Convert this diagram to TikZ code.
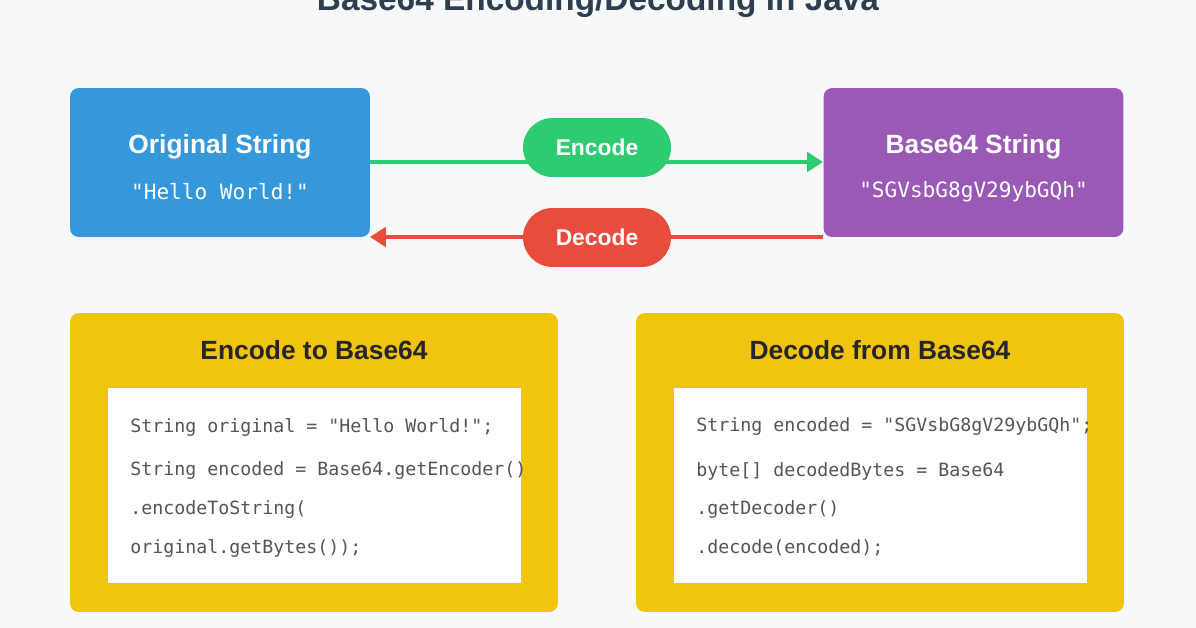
\documentclass[tikz,border=0pt]{standalone}
\usepackage{fontspec}
\setmainfont{Liberation Sans}
\setmonofont{DejaVu Sans Mono}
\usetikzlibrary{arrows.meta,positioning}
\definecolor{bgcol}{HTML}{F7F8F9}
\definecolor{bluebox}{HTML}{3498DB}
\definecolor{purplebox}{HTML}{9B59B6}
\definecolor{greenpill}{HTML}{2ECC71}
\definecolor{redpill}{HTML}{E74C3C}
\definecolor{yellowbox}{HTML}{F1C40F}
\definecolor{codegray}{HTML}{555555}
\definecolor{titlecol}{HTML}{2C3E50}

\begin{document}
\begin{tikzpicture}[x=0.02cm, y=-0.02cm,
    box/.style={rounded corners=5pt, minimum width=6cm, minimum height=2.98cm, inner sep=0pt},
    pill/.style={rounded corners=0.59cm, minimum width=2.96cm, minimum height=1.18cm, text=white, font=\bfseries\fontsize{13}{15}\selectfont},
    panel/.style={fill=yellowbox, rounded corners=5pt, minimum width=9.76cm, minimum height=5.98cm},
    codebox/.style={fill=white, minimum width=8.26cm, minimum height=3.9cm},
    head/.style={text=white, font=\bfseries\fontsize{15}{18}\selectfont},
    sub/.style={text=white, font=\ttfamily\fontsize{12}{14}\selectfont},
    code/.style={anchor=west, text=codegray, font=\ttfamily\fontsize{10.4}{12}\selectfont, inner sep=0pt},
    flow/.style={line width=2.2pt, -{Triangle[length=9pt,width=11pt]}}]
    \fill[bgcol] (0,0) rectangle (1196,628);
    \useasboundingbox (0,0) rectangle (1196,628);
    \node[text=titlecol, font=\bfseries\fontsize{19}{22}\selectfont] (title) at (598,2) {Base64 Encoding/Decoding in Java};

    % top boxes
    \node[box, fill=bluebox] (orig) at (220,162.5) {};
    \node[head] at (220,147) {Original String};
    \node[sub] at (220,192) {"Hello World!"};
    \node[box, fill=purplebox] (b64) at (973.5,162.5) {};
    \node[head] at (973.5,147) {Base64 String};
    \node[sub] at (973.5,192) {"SGVsbG8gV29ybGQh"};

    % arrows
    \coordinate (encA) at (370,162);
    \coordinate (encB) at (823,162);
    \coordinate (decA) at (823,237);
    \coordinate (decB) at (370,237);
    \draw[flow, greenpill] (encA) -- (encB);
    \draw[flow, redpill] (decA) -- (decB);
    \node[pill, fill=greenpill] (enc) at (597,147.5) {Encode};
    \node[pill, fill=redpill] (dec) at (597,237.5) {Decode};

    % code panels
    \node[panel] (encpanel) at (314,462.5) {};
    \node[font=\bfseries\fontsize{15}{18}\selectfont, text=black!85] at (314,350) {Encode to Base64};
    \node[codebox] (enccode) at (314.5,485.5) {};
    \node[code] at (130,427) {String original = "Hello World!";};
    \node[code] at (130,471) {String encoded = Base64.getEncoder()};
    \node[code] at (130,510) {.encodeToString(};
    \node[code] at (130,548) {original.getBytes());};

    \node[panel] (decpanel) at (880,462.5) {};
    \node[font=\bfseries\fontsize{15}{18}\selectfont, text=black!85] at (880,350) {Decode from Base64};
    \node[codebox] (deccode) at (880.5,485.5) {};
    \node[code] at (696,427) {String encoded = "SGVsbG8gV29ybGQh";};
    \node[code] at (696,471) {byte[] decodedBytes = Base64};
    \node[code] at (696,510) {.getDecoder()};
    \node[code] at (696,548) {.decode(encoded);};
\end{tikzpicture}
\end{document}
